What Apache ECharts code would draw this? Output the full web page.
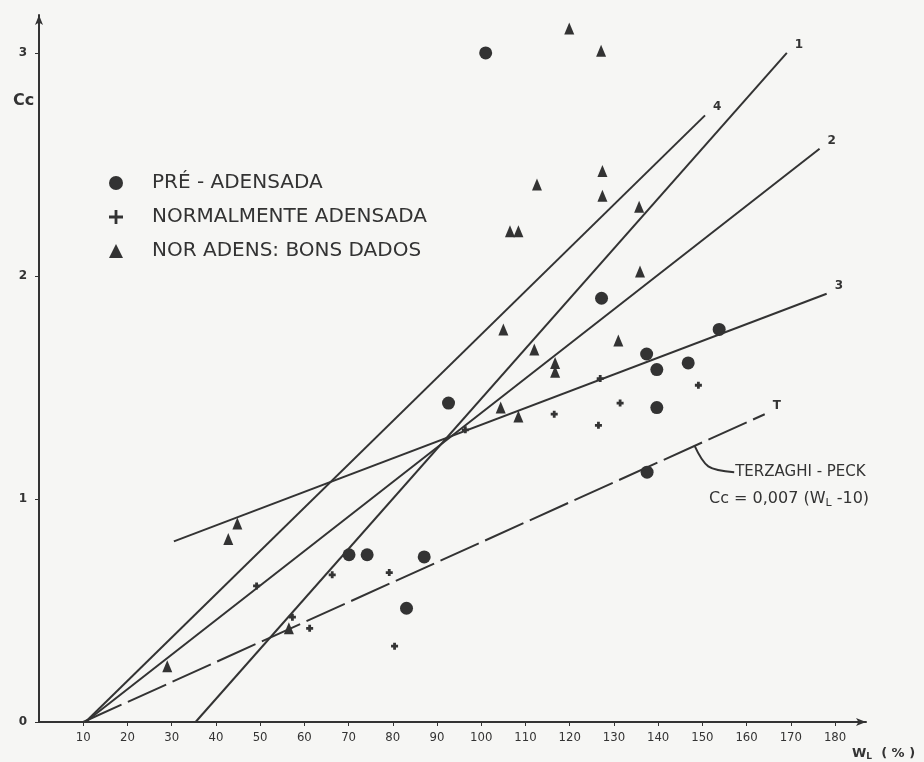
<!DOCTYPE html>
<html>
<head>
<meta charset="utf-8">
<script src="https://cdn.jsdelivr.net/npm/echarts@6.0.0/dist/echarts.min.js"></script>
<style>
  html, body { margin: 0; padding: 0; background: #f6f6f4; }
  #chart { width: 924px; height: 762px; }
</style>
</head>
<body>
<div id="chart"></div>
<script>
// pontos (W_L %, Cc)
var preAdensada = [
  [101.0, 3.00], [127.2, 1.90], [153.8, 1.76], [137.4, 1.65], [139.7, 1.58],
  [146.8, 1.61], [139.7, 1.41], [92.6, 1.43], [137.5, 1.12], [70.1, 0.75],
  [74.2, 0.75], [87.1, 0.74], [83.1, 0.51]
];
var normalmente = [
  [49.2, 0.61], [57.3, 0.47], [61.2, 0.42], [66.3, 0.66], [79.2, 0.67],
  [80.4, 0.34], [96.4, 1.31], [116.5, 1.38], [126.9, 1.54], [126.5, 1.33],
  [131.4, 1.43], [149.1, 1.51]
];
var bonsDados = [
  [119.9, 3.11], [127.1, 3.01], [112.6, 2.41], [106.5, 2.20], [108.4, 2.20],
  [127.4, 2.47], [127.4, 2.36], [135.7, 2.31], [135.9, 2.02], [105.0, 1.76],
  [112.0, 1.67], [116.7, 1.61], [116.7, 1.57], [131.0, 1.71], [104.4, 1.41],
  [108.4, 1.37], [44.85, 0.89], [42.8, 0.82], [29.0, 0.25], [56.5, 0.42]
];
// retas de correlacao
var reta1 = [[35.4, 0], [169.1, 3.0]];
var reta2 = [[10.5, 0], [176.5, 2.57]];
var reta3 = [[30.5, 0.81], [178.1, 1.92]];
var reta4 = [[10.5, 0], [150.6, 2.72]];
var retaT = [[10, 0], [164.1, 1.38]];

var xTicks = [10, 20, 30, 40, 50, 60, 70, 80, 90, 100, 110, 120, 130, 140, 150, 160, 170, 180];
var yTicks = [0, 1, 2, 3];

var ink = '#333';
var dot = '#333';
var plusPath = 'path://M3,0H7V3H10V7H7V10H3V7H0V3H3Z';

var chart = echarts.init(document.getElementById('chart'));

function reta(nome, dados, dash) {
  return {
    type: 'line', name: nome, data: dados, showSymbol: false, silent: true,
    lineStyle: { color: ink, width: 2, type: dash || 'solid' },
    endLabel: { show: true, formatter: nome, color: ink, fontSize: 12, fontWeight: 'bold',
                fontFamily: 'DejaVu Sans', offset: [0, -8] }
  };
}

var option = {
  backgroundColor: '#f6f6f4',
  animation: false,
  grid: { left: 39, right: 58, top: 15, bottom: 40 },
  legend: {
    orient: 'vertical', left: 104, top: 168, itemGap: 14,
    itemWidth: 14, itemHeight: 14,
    textStyle: { color: ink, fontSize: 20, fontFamily: 'DejaVu Sans', padding: [0, 0, 0, 24] },
    data: [
      { name: 'PRÉ - ADENSADA', icon: 'circle' },
      { name: 'NORMALMENTE ADENSADA', icon: 'path://M4,0H6V4H10V6H6V10H4V6H0V4H4Z' },
      { name: 'NOR ADENS: BONS DADOS', icon: 'triangle' }
    ]
  },
  xAxis: {
    type: 'value', min: 0, max: 187, interval: 10,
    splitLine: { show: false },
    axisLine: { lineStyle: { color: ink, width: 2 }, symbol: ['none', 'arrow'], symbolSize: [6, 10] },
    axisTick: { show: true, length: 4, lineStyle: { color: ink } },
    axisLabel: {
      color: ink, fontSize: 13, fontFamily: 'DejaVu Sans Condensed', margin: 9,
      showMinLabel: false, showMaxLabel: false,
      formatter: function (v) { return xTicks.indexOf(v) >= 0 ? String(v) : ''; }
    }
  },
  yAxis: {
    type: 'value', min: 0, max: 3.17, interval: 1,
    splitLine: { show: false },
    axisLine: { lineStyle: { color: ink, width: 2 }, symbol: ['none', 'arrow'], symbolSize: [6, 10] },
    axisTick: { show: true, length: 4, lineStyle: { color: ink } },
    axisLabel: {
      color: ink, fontSize: 12, fontWeight: 'bold', fontFamily: 'DejaVu Sans', margin: 12,
      showMaxLabel: false,
      formatter: function (v) { return yTicks.indexOf(v) >= 0 ? String(v) : ''; }
    }
  },
  series: [
    reta('1', reta1), reta('2', reta2), reta('3', reta3), reta('4', reta4),
    reta('T', retaT, [42, 7]),
    { type: 'scatter', name: 'PRÉ - ADENSADA', data: preAdensada, symbol: 'circle',
      symbolSize: 13, itemStyle: { color: dot, opacity: 1 } },
    { type: 'scatter', name: 'NORMALMENTE ADENSADA', data: normalmente, symbol: plusPath,
      symbolSize: 7, itemStyle: { color: dot, opacity: 1 } },
    { type: 'scatter', name: 'NOR ADENS: BONS DADOS', data: bonsDados, symbol: 'triangle',
      symbolSize: [10, 12], itemStyle: { color: dot, opacity: 1 } }
  ]
};
chart.setOption(option);

// anotacao Terzaghi-Peck, ancorada em coordenadas do grafico
var a0 = chart.convertToPixel({ gridIndex: 0 }, [148.2, 1.24]);
var a1 = chart.convertToPixel({ gridIndex: 0 }, [157.2, 1.12]);
var t2 = chart.convertToPixel({ gridIndex: 0 }, [151.5, 1.0]);

chart.setOption({
  graphic: [
    { type: 'bezierCurve', silent: true,
      shape: { x1: a0[0], y1: a0[1], cpx1: a0[0] + 10, cpy1: a0[1] + 22,
               cpx2: a1[0] - 26, cpy2: a1[1] - 2, x2: a1[0], y2: a1[1] },
      style: { stroke: ink, lineWidth: 2, fill: null } },
    { type: 'text', x: a1[0] + 1, y: a1[1], silent: true,
      style: { text: 'TERZAGHI - PECK', fill: ink, fontSize: 15, fontFamily: 'DejaVu Sans',
               verticalAlign: 'middle' } },
    { type: 'text', x: t2[0], y: t2[1], silent: true,
      style: { text: '{a|Cc = 0,007 (W}{s|L}{a| -10)}', verticalAlign: 'middle',
               rich: { a: { fill: ink, fontSize: 16, fontFamily: 'DejaVu Sans' },
                       s: { fill: ink, fontSize: 11, fontFamily: 'DejaVu Sans', padding: [8, 0, 0, 0] } } } },
    { type: 'text', left: 13, top: 93, silent: true,
      style: { text: 'Cc', fill: ink, fontSize: 16, fontWeight: 'bold', fontFamily: 'DejaVu Sans' } },
    { type: 'text', left: 852, top: 747, silent: true,
      style: { text: '{a|W}{s|L}{a|  ( % )}',
               rich: { a: { fill: ink, fontSize: 13, fontWeight: 'bold', fontFamily: 'DejaVu Sans' },
                       s: { fill: ink, fontSize: 9, fontWeight: 'bold', fontFamily: 'DejaVu Sans', padding: [7, 0, 0, 0] } } } }
  ]
});
</script>
</body>
</html>
